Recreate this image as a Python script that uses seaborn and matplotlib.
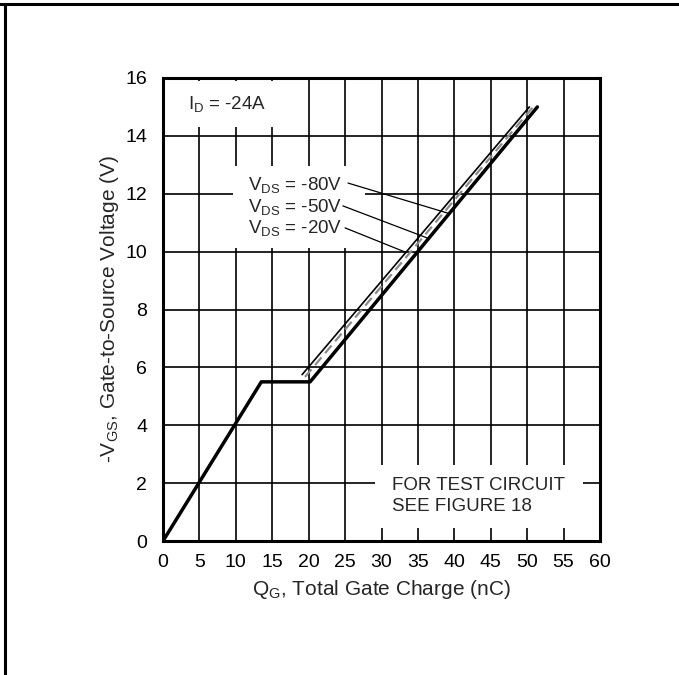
import matplotlib
matplotlib.use("Agg")
import matplotlib.pyplot as plt
from matplotlib.lines import Line2D
from matplotlib.patches import Rectangle
import seaborn as sns
import pandas as pd

# ---- data ----
qg_m80 = [0.0, 13.5, 20.2, 51.4]      # nC, thick solid (includes initial ramp + plateau)
vgs_m80 = [0.0, 5.5, 5.5, 15.0]
qg_m50 = [19.5, 50.8]                 # gray dashed
vgs_m50 = [5.67, 15.0]
qg_m20 = [19.1, 50.3]                 # thin solid
vgs_m20 = [5.75, 15.0]

x_ticks = list(range(0, 61, 5))
y_ticks = list(range(0, 17, 2))
vds_labels = ["-80V", "-50V", "-20V"]

sns.set_style("white")
plt.rcParams["font.family"] = ["Liberation Sans", "DejaVu Sans"]
plt.rcParams["mathtext.fontset"] = "custom"
plt.rcParams["mathtext.rm"] = "Liberation Sans"
plt.rcParams["mathtext.it"] = "Liberation Sans"

fig = plt.figure(figsize=(6.79, 6.75), dpi=100)
ax = fig.add_axes([163/679, 1-541/675, (600-163)/679, (541-78)/675])

df80 = pd.DataFrame({"q": qg_m80, "v": vgs_m80})
df50 = pd.DataFrame({"q": qg_m50, "v": vgs_m50})
df20 = pd.DataFrame({"q": qg_m20, "v": vgs_m20})

sns.lineplot(data=df80, x="q", y="v", ax=ax, color="black", lw=2.5, sort=False, zorder=3)
sns.lineplot(data=df50, x="q", y="v", ax=ax, color="#8a8a8a", lw=1.6, sort=False, zorder=3,
             linestyle=(0, (4.5, 2.5)))
sns.lineplot(data=df20, x="q", y="v", ax=ax, color="black", lw=1.2, sort=False, zorder=3)

ax.set_xlim(0, 60)
ax.set_ylim(0, 16)
ax.set_xticks(x_ticks)
ax.set_yticks(y_ticks)
ax.set_xticklabels([str(t) for t in x_ticks])
ax.set_yticklabels([str(t) for t in y_ticks])
ax.tick_params(axis="x", length=0, labelsize=14, pad=9.5, colors="black")
ax.tick_params(axis="y", length=0, labelsize=14, pad=11.5, colors="black")
ax.set_axisbelow(True)
ax.grid(True, color="black", lw=1.2)
for s in ax.spines.values():
    s.set_visible(True)
    s.set_color("black")
    s.set_linewidth(2.2)

ax.set_xlabel(r"Q$_{\mathregular{G}}$, Total Gate Charge (nC)", fontsize=15, labelpad=5)
ax.set_ylabel(r"-V$_{\mathregular{GS}}$, Gate-to-Source Voltage (V)", fontsize=15, labelpad=3)

# white boxes that interrupt the grid behind the annotations
for (x0, x1, y0, y1) in [(0.2, 19.0, 14.3, 15.9), (9.6, 27.7, 10.12, 12.96), (29.1, 57.6, 0.45, 2.63)]:
    ax.add_patch(Rectangle((x0, y0), x1 - x0, y1 - y0, facecolor="white", edgecolor="none", zorder=1))

ax.text(3.4, 15.1, r"I$_{\mathregular{D}}$ = -24A", fontsize=13.5, va="center", ha="left", zorder=4)

label_y = [12.3, 11.54, 10.8]
leader_start = [(25.4, 12.37), (24.7, 11.58), (25.0, 10.82)]
leader_end = [(39.1, 11.33), (36.3, 10.47), (33.2, 9.99)]
for lab, ly, st, en in zip(vds_labels, label_y, leader_start, leader_end):
    ax.text(11.7, ly, r"V$_{\mathregular{DS}}$ = " + lab, fontsize=13.5, va="center", ha="left", zorder=4)
    ax.plot([st[0], en[0]], [st[1], en[1]], color="black", lw=0.9, zorder=4)

ax.text(31.5, 1.56, "FOR TEST CIRCUIT\nSEE FIGURE 18", fontsize=13.5, va="center", ha="left",
        linespacing=1.3, zorder=4)

# page frame
fig.add_artist(Line2D([0, 1], [1 - 4/675, 1 - 4/675], transform=fig.transFigure, color="black", lw=2.2))
fig.add_artist(Line2D([5/679, 5/679], [0, 1 - 4/675], transform=fig.transFigure, color="black", lw=2.2))

fig.savefig("out.png", dpi=100, facecolor="white")
